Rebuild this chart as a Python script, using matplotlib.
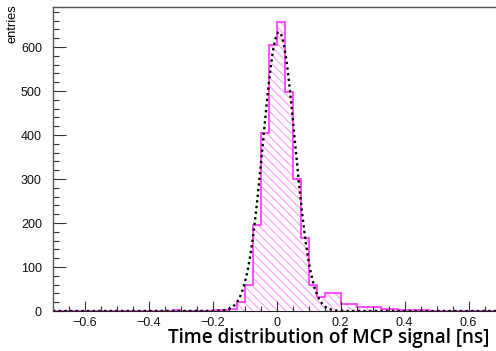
import numpy as np
import matplotlib
matplotlib.use("Agg")
from matplotlib import pyplot as plt
from matplotlib.ticker import MultipleLocator

# Histogram: 0.025 ns bins from -0.5 to 0.5 ns (everything outside is empty)
bin_lo = -0.5
bin_width = 0.025
counts = [1, 1, 0, 1, 0, 0, 1, 2, 0, 0,
          0, 0, 2, 2, 4, 20, 59, 195, 405, 605,
          656, 497, 299, 167, 59, 32, 40, 40, 17, 17,
          9, 8, 9, 5, 5, 3, 3, 2, 2, 0]

# Gaussian fit parameters
fit_amp = 634.0
fit_mean = 0.007
fit_sigma = 0.050

x_range = (-0.7, 0.7)
y_max = 691

edges = bin_lo + bin_width * np.arange(len(counts) + 1)
# pad with empty bins so the outline runs over the full axis
full_edges = np.concatenate(([x_range[0]], edges, [x_range[1]]))
full_counts = np.concatenate(([0], counts, [0]))

plt.rcParams['font.family'] = ['Liberation Sans', 'DejaVu Sans']
plt.rcParams['hatch.linewidth'] = 0.9

fig = plt.figure(figsize=(4.96, 3.51), dpi=100)
ax = fig.add_axes([53 / 496, 1 - 311 / 351, (500.5 - 53) / 496, (311 - 7) / 351])

# hatched fill
ax.stairs(full_counts, full_edges, fill=True, facecolor='none',
          edgecolor='#ffa6ff', hatch='\\\\\\\\', linewidth=0)
# outline
ax.stairs(full_counts, full_edges, color='#ff40ff', linewidth=1.3)

xs = np.linspace(x_range[0], x_range[1], 800)
fit = fit_amp * np.exp(-0.5 * ((xs - fit_mean) / fit_sigma) ** 2)
ax.plot(xs, fit, color='black', linewidth=1.7, linestyle=(0, (1.0, 1.4)))

ax.set_xlim(*x_range)
ax.set_ylim(0, y_max)

ax.xaxis.set_major_locator(MultipleLocator(0.2))
ax.xaxis.set_minor_locator(MultipleLocator(0.05))
ax.yaxis.set_major_locator(MultipleLocator(100))
ax.yaxis.set_minor_locator(MultipleLocator(20))
ax.tick_params(axis='both', which='both', direction='in', colors='#333333',
               labelcolor='#111111', labelsize=9, width=0.8)
ax.tick_params(axis='x', which='major', length=7, pad=4.5)
ax.tick_params(axis='x', which='minor', length=3.5)
ax.tick_params(axis='y', which='major', length=9.5, pad=8)
ax.tick_params(axis='y', which='minor', length=4.5)
ax.xaxis.set_major_formatter(plt.FuncFormatter(
    lambda v, p: '0' if abs(v) < 1e-9 else ('%.1f' % v).replace('-', '\u2212')))

for side in ['left', 'top']:
    ax.spines[side].set_color('#555555')
    ax.spines[side].set_linewidth(1.0)
ax.spines['bottom'].set_color('#222222')
ax.spines['right'].set_visible(False)

fig.text(12 / 496, 1 - 4 / 351, 'entries', rotation=90, ha='center', va='top',
         fontsize=9.3)
fig.text(490 / 496, 1 - 343 / 351, 'Time distribution of MCP signal [ns]',
         ha='right', va='baseline', fontsize=13.6, fontweight=600,
         family=['Open Sans', 'DejaVu Sans'])

fig.savefig('out.png', dpi=100)
